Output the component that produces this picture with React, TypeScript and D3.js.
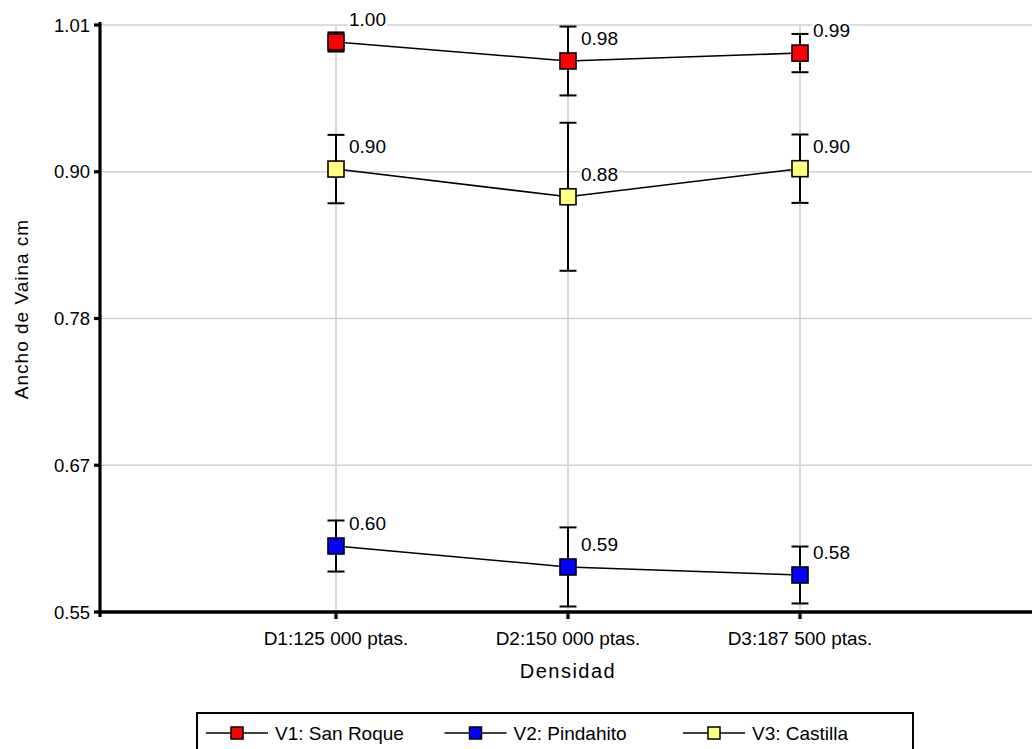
import React from "react";
import * as d3 from "d3";

const categories = ["D1:125 000 ptas.", "D2:150 000 ptas.", "D3:187 500 ptas."];
const seriesNames = ["V1: San Roque", "V2: Pindahito", "V3: Castilla"];
const seriesColors = ["#ff0000", "#0000ff", "#ffff80"];
const v1Means = [0.9967, 0.9818, 0.988];
const v1Errors = [0.0075, 0.027, 0.015];
const v2Means = [0.6017, 0.5853, 0.579];
const v2Errors = [0.02, 0.031, 0.0223];
const v3Means = [0.8971, 0.8754, 0.8974];
const v3Errors = [0.0268, 0.058, 0.0268];
const yTicks = [0.55, 0.665, 0.78, 0.895, 1.01];
const yTickLabels = ["0.55", "0.67", "0.78", "0.90", "1.01"];
const xTitle = "Densidad";
const yTitle = "Ancho de Vaina cm";

const W = 1032;
const H = 749;
const FONT = "'Liberation Sans', Arial, sans-serif";

export default function App() {
  const x = d3.scalePoint<string>().domain(categories).range([336, 800]);
  const y = d3.scaleLinear().domain([0.55, 1.01]).range([612, 25]);
  const series = [
    { name: seriesNames[0], color: seriesColors[0], means: v1Means, errs: v1Errors },
    { name: seriesNames[1], color: seriesColors[1], means: v2Means, errs: v2Errors },
    { name: seriesNames[2], color: seriesColors[2], means: v3Means, errs: v3Errors },
  ];
  const line = d3
    .line<number>()
    .x((_, i) => x(categories[i]) as number)
    .y((d) => y(d));
  const plotLeft = 100;
  const plotRight = W;
  const ms = 16;
  const capHalf = 8.5;

  return (
    <svg
      width={W}
      height={H}
      style={{ position: "absolute", left: 0, top: 0, background: "#fff" }}
      fontFamily={FONT}
    >
      <rect x={0} y={0} width={W} height={H} fill="#fff" />
      {/* grid */}
      {yTicks.map((t, i) => (
        <line key={"gy" + i} x1={plotLeft} x2={plotRight} y1={y(t)} y2={y(t)} stroke="#d0d0d0" strokeWidth={1.6} />
      ))}
      {categories.map((c) => (
        <line key={"gx" + c} x1={x(c)} x2={x(c)} y1={y(1.01)} y2={y(0.55)} stroke="#d0d0d0" strokeWidth={1.6} />
      ))}
      {/* axes */}
      <line x1={plotLeft} x2={plotLeft} y1={y(1.01) - 3} y2={y(0.55) + 5} stroke="#000" strokeWidth={3.2} />
      <line x1={plotLeft - 1.5} x2={plotRight} y1={y(0.55)} y2={y(0.55)} stroke="#000" strokeWidth={3.5} />
      {yTicks.map((t, i) => (
        <g key={"yt" + i}>
          <line x1={plotLeft - 6} x2={plotLeft} y1={y(t)} y2={y(t)} stroke="#000" strokeWidth={3.2} />
          <text x={90} y={y(t)} dy="0.36em" textAnchor="end" fontSize={18.5} fill="#000">
            {yTickLabels[i]}
          </text>
        </g>
      ))}
      {categories.map((c) => (
        <g key={"xt" + c}>
          <line x1={x(c)} x2={x(c)} y1={y(0.55)} y2={y(0.55) + 7} stroke="#000" strokeWidth={3.2} />
          <text x={x(c)} y={645} textAnchor="middle" fontSize={19} fill="#000">
            {c}
          </text>
        </g>
      ))}
      <text x={568} y={678} textAnchor="middle" fontSize={20} letterSpacing={1.5} fill="#000">
        {xTitle}
      </text>
      <text
        transform={`translate(28,309) rotate(-90)`}
        textAnchor="middle"
        fontSize={19}
        letterSpacing={1}
        fill="#000"
      >
        {yTitle}
      </text>
      {/* error bars */}
      {series.map((s) =>
        s.means.map((m, i) => {
          const cx = x(categories[i]) as number;
          const top = y(m + s.errs[i]);
          const bot = y(m - s.errs[i]);
          return (
            <g key={"eb" + s.name + i} stroke="#000" strokeWidth={2}>
              <line x1={cx} x2={cx} y1={top} y2={bot} />
              <line x1={cx - capHalf} x2={cx + capHalf} y1={top} y2={top} />
              <line x1={cx - capHalf} x2={cx + capHalf} y1={bot} y2={bot} />
            </g>
          );
        })
      )}
      {/* lines */}
      {series.map((s) => (
        <path key={"ln" + s.name} d={line(s.means) || ""} fill="none" stroke="#000" strokeWidth={1.6} />
      ))}
      {/* markers */}
      {series.map((s) =>
        s.means.map((m, i) => (
          <rect
            key={"mk" + s.name + i}
            x={(x(categories[i]) as number) - ms / 2}
            y={y(m) - ms / 2}
            width={ms}
            height={ms}
            fill={s.color}
            stroke="#000"
            strokeWidth={1.6}
          />
        ))
      )}
      {/* value labels */}
      {series.map((s) =>
        s.means.map((m, i) => {
          const lx = (x(categories[i]) as number) + 13;
          const ly = y(m) - 23;
          return (
            <g key={"lb" + s.name + i}>
              <rect x={lx - 1} y={ly - 9} width={39} height={18} fill="#fff" />
              <text x={lx} y={ly} dy="0.36em" fontSize={19} fill="#000">
                {m.toFixed(2)}
              </text>
            </g>
          );
        })
      )}
      {/* legend */}
      <rect x={197} y={713} width={716} height={50} fill="#fff" stroke="#000" strokeWidth={2} />
      {series.map((s, i) => {
        const x0 = 206 + i * 238.5;
        const ly = 733;
        return (
          <g key={"lg" + s.name}>
            <line x1={x0} x2={x0 + 62} y1={ly} y2={ly} stroke="#000" strokeWidth={1.6} />
            <rect x={x0 + 25} y={ly - 6} width={12} height={12} fill={s.color} stroke="#000" strokeWidth={1.5} />
            <text x={x0 + 69} y={ly} dy="0.36em" fontSize={19} fill="#000">
              {s.name}
            </text>
          </g>
        );
      })}
    </svg>
  );
}
